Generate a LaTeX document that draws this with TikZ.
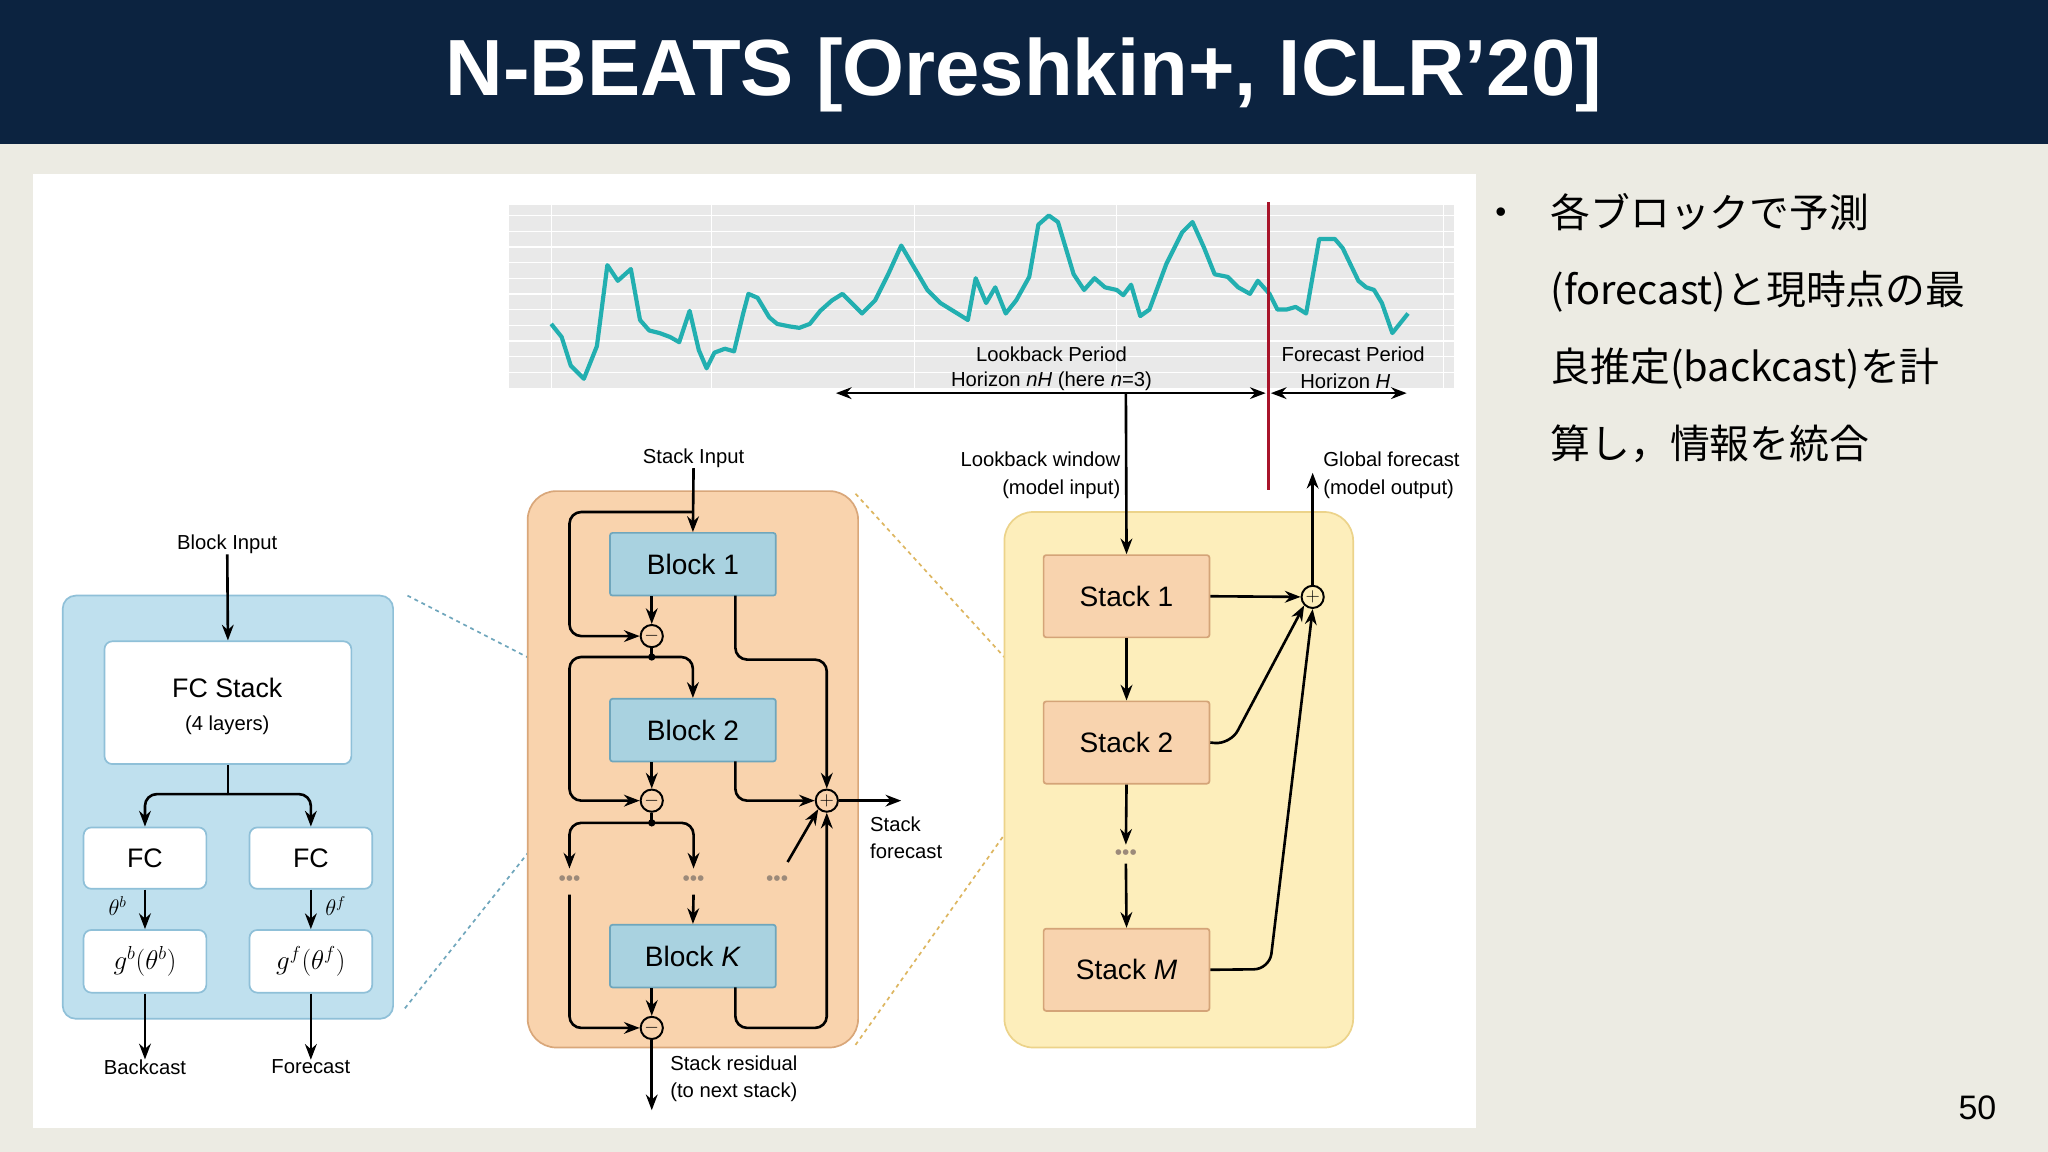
\documentclass[tikz,border=0pt]{standalone}
\usepackage{fontspec}
\setmainfont{Liberation Sans}
\newfontfamily\jp{Noto Sans CJK JP}
\usetikzlibrary{arrows.meta}
\definecolor{navy}{HTML}{0C2340}
\definecolor{pagebg}{HTML}{ECEBE3}
\definecolor{bluebg}{HTML}{BFE0EE}
\definecolor{blueln}{HTML}{8FC0D8}
\definecolor{blockf}{HTML}{A9D2E0}
\definecolor{blockd}{HTML}{6FA6BC}
\definecolor{orbg}{HTML}{F9D3AD}
\definecolor{orln}{HTML}{D9A77A}
\definecolor{yelbg}{HTML}{FDEEBB}
\definecolor{yelln}{HTML}{ECD38A}
\definecolor{stackf}{HTML}{F8D3AE}
\definecolor{stackd}{HTML}{D4A478}
\definecolor{teal}{HTML}{22AFB0}
\definecolor{chartbg}{HTML}{E9E9E9}
\definecolor{redln}{HTML}{A8142A}
\definecolor{dotc}{HTML}{9C8A7A}
\tikzset{
  arr/.style={-{Stealth[length=12pt,width=9pt]},line width=2pt,rounded corners=9pt},
  ln/.style={line width=2pt,rounded corners=9pt},
  lbl/.style={font=\fontsize{15.5}{18}\selectfont,inner sep=0pt},
  blk/.style={draw=blockd,fill=blockf,line width=1.3pt,rounded corners=2pt,minimum width=127pt,minimum height=48pt,font=\fontsize{21.5}{24}\selectfont},
  stk/.style={draw=stackd,fill=stackf,line width=1.3pt,rounded corners=2pt,minimum width=127pt,minimum height=63pt,font=\fontsize{21.5}{24}\selectfont},
  wbox/.style={draw=blueln,fill=white,line width=1.3pt,rounded corners=6pt},
  op/.style={circle,draw,line width=1.5pt,fill=orbg,minimum size=17pt,inner sep=0pt,font=\fontsize{14}{14}\selectfont},
  dts/.style={text=dotc,font=\fontsize{16}{16}\selectfont},
}
\begin{document}
\begin{tikzpicture}[x=1pt,y=-1pt]
\fill[pagebg] (0,0) rectangle (1568,882);
\useasboundingbox (0,0) rectangle (1568,882);
\fill[navy] (0,0) rectangle (1568,110);
\node[text=white,font=\fontsize{61}{61}\bfseries\selectfont] (title) at (784,57) {N-BEATS [Oreshkin+, ICLR’20]};
\fill[white] (25,133) rectangle (1130,864);
% chart
\fill[chartbg] (390,157) rectangle (1113,297);
\foreach \y in {165,177,...,293} \draw[white,line width=1pt] (390,\y) -- (1113,\y);
\foreach \x in {422,545,700,855,1105} \draw[white,line width=1pt] (\x,157) -- (\x,297);
\draw[teal,line width=3.2pt,line join=round] (422,248)--(430,258)--(437,280)--(447,290)--(457,265)--(465,203)--(473,215)--(483,206)--(490,245)--(497,253)--(505,255)--(513,258)--(520,262)--(528,238)--(535,268)--(541,282)--(547,270)--(555,267)--(562,269)--(569,240)--(573,225)--(580,228)--(589,243)--(595,248)--(605,250)--(612,251)--(620,248)--(628,238)--(637,230)--(645,225)--(652,232)--(660,240)--(670,230)--(680,210)--(690,188)--(700,205)--(710,222)--(720,232)--(733,240)--(741,245)--(747,213)--(755,232)--(762,220)--(770,240)--(778,230)--(788,212)--(795,172)--(803,165)--(810,170)--(822,210)--(830,222)--(838,213)--(846,220)--(855,222)--(860,226)--(866,218)--(873,242)--(880,237)--(893,202)--(905,178)--(913,170)--(922,190)--(930,210)--(940,212)--(948,220)--(957,225)--(963,215)--(972,225)--(978,237)--(985,237)--(992,235)--(1000,240)--(1010,183)--(1022,183)--(1028,190)--(1040,215)--(1046,220)--(1052,222)--(1058,232)--(1066,255)--(1078,240);
\draw[redln,line width=2.5pt] (971,155) -- (971,375);
\coordinate (la) at (640,301); \coordinate (lb) at (969,301);
\coordinate (fa) at (973,301); \coordinate (fb) at (1077,301);
\draw[{Stealth[length=12pt,width=9pt]}-{Stealth[length=12pt,width=9pt]},line width=1.8pt] (la) -- (lb);
\draw[{Stealth[length=12pt,width=9pt]}-{Stealth[length=12pt,width=9pt]},line width=1.8pt] (fa) -- (fb);
\node[lbl] (lp1) at (805,271) {Lookback Period};
\node[lbl] (lp2) at (805,292) {Horizon \textit{nH} (here \textit{n}=3)};
\node[lbl] (fp1) at (1036,271) {Forecast Period};
\node[lbl] (fp2) at (1030,292) {Horizon \textit{H}};
% dashed connectors
\draw[dashed,blockd,line width=1.3pt] (312,456) -- (462,533);
\draw[dashed,blockd,line width=1.3pt] (310,772) -- (462,580);
\draw[dashed,stackd!80!yellow,line width=1.3pt] (655,378) -- (798,535);
\draw[dashed,stackd!80!yellow,line width=1.3pt] (655,800) -- (798,598);
% left panel
\draw[blueln,fill=bluebg,line width=1.3pt,rounded corners=10pt] (48,456) rectangle (301,780);
\node[lbl] (bin) at (174,417) {Block Input};
\node[wbox,minimum width=189pt,minimum height=94pt] (fcs) at (174.5,538) {};
\node[font=\fontsize{20.5}{22}\selectfont] (fcst) at (174,527) {FC Stack};
\node[lbl] (fcl) at (174,555) {(4 layers)};
\node[wbox,minimum width=94pt,minimum height=47pt,font=\fontsize{20.5}{22}\selectfont] (fc1) at (111,657) {FC};
\node[wbox,minimum width=94pt,minimum height=47pt,font=\fontsize{20.5}{22}\selectfont] (fc2) at (238,657) {FC};
\node[wbox,minimum width=94pt,minimum height=48pt,font=\fontsize{22}{22}\selectfont] (g1) at (111,736) {$g^b(\theta^b)$};
\node[wbox,minimum width=94pt,minimum height=48pt,font=\fontsize{22}{22}\selectfont] (g2) at (238,736) {$g^f(\theta^f)$};
\node[font=\fontsize{17}{17}\selectfont] (tb) at (90,694) {$\theta^b$};
\node[font=\fontsize{17}{17}\selectfont] (tf) at (257,694) {$\theta^f$};
\node[lbl] (bc) at (111,817) {Backcast};
\node[lbl] (fcast) at (238,817) {Forecast};
\draw[arr] (bin.south) -- (fcs.north);
\coordinate (br) at (174.5,608);
\draw[ln] (fcs.south) -- (br);
\draw[arr] (br) -| (fc1.north);
\draw[arr] (br) -| (fc2.north);
\draw[arr] (fc1) -- (g1);
\draw[arr] (fc2) -- (g2);
\draw[arr] (g1.south) -- (bc.north);
\draw[arr] (g2.south) -- (fcast.north);
% stack panel
\draw[orln,fill=orbg,line width=1.3pt,rounded corners=22pt] (404,376) rectangle (657,802);
\node[lbl] (sin) at (531,351) {Stack Input};
\node[blk] (b1) at (530.5,432) {Block 1};
\node[blk] (b2) at (530.5,559) {Block 2};
\node[blk] (bk) at (530.5,732) {Block \textit{K}};
\node[op] (m1) at (499,487) {$-$};
\node[op] (m2) at (499,613) {$-$};
\node[op] (m3) at (499,787) {$-$};
\node[op] (pl) at (633,613) {$+$};
\node[dts] (d1) at (436,674) {•••};
\node[dts] (d2) at (531,674) {•••};
\node[dts] (d3) at (595,674) {•••};
\coordinate (s0) at (531,392);
\coordinate (j1) at (499,503);
\coordinate (j2) at (499,630);
\fill (j1) circle (2.8pt); \fill (j2) circle (2.8pt);
\draw[arr] (sin.south) -- (b1.north);
\draw[arr] (s0) -| (436,487) -- (m1.west);
\draw[arr] (b1.south -| m1) -- (m1.north);
\draw[ln] (m1.south) -- (j1);
\draw[arr] (j1) -| (436,613) -- (m2.west);
\draw[arr] (j1) -| (b2.north);
\draw[arr] (563,456) |- (633,505) -- (pl.north);
\draw[arr] (b2.south -| m2) -- (m2.north);
\draw[arr] (563,583) |- (pl.west);
\draw[ln] (m2.south) -- (j2);
\draw[arr] (j2) -| (436,665);
\draw[arr] (j2) -| (531,665);
\draw[arr] (603,660) -- (pl.south west);
\draw[arr] (531,685) -- (bk.north);
\draw[arr] (436,685) |- (m3.west);
\draw[arr] (bk.south -| m3) -- (m3.north);
\draw[arr] (563,756) |- (633,787) -- (pl.south);
\coordinate (resend) at (499,850);
\draw[arr] (m3.south) -- (resend);
\coordinate (sfend) at (690,613);
\draw[arr] (pl.east) -- (sfend);
\node[lbl,align=left,anchor=north west] (sf) at (666,625) {Stack\\[3pt]forecast};
\node[lbl,align=left,anchor=north west] (sr) at (513,808) {Stack residual\\[3pt](to next stack)};
% model panel
\draw[yelln,fill=yelbg,line width=1.3pt,rounded corners=22pt] (769,392) rectangle (1036,802);
\node[stk] (st1) at (862.5,456.5) {Stack 1};
\node[stk] (st2) at (862.5,568.5) {Stack 2};
\node[stk] (stm) at (862.5,742.5) {Stack \textit{M}};
\node[dts] (d4) at (862,654) {•••};
\node[op,fill=yelbg] (gp) at (1005,457) {$+$};
\coordinate (lw) at (862,301);
\draw[arr] (lw) -- (st1.north);
\draw[arr] (st1) -- (st2);
\draw[arr] (st2.south) -- (d4.north);
\draw[arr] (d4.south) -- (stm.north);
\draw[arr] (st1.east) -- (gp.west);
\draw[arr,rounded corners=12pt] (st2.east) -- (942,570) -- (gp.south west);
\draw[arr,rounded corners=12pt] (stm.east) -- (972,742) -- (gp.south);
\coordinate (gend) at (1005,362);
\draw[arr] (gp.north) -- (gend);
\node[lbl,align=right,anchor=east] (lwl) at (858,364) {Lookback window\\[3pt](model input)};
\node[lbl,align=left,anchor=west] (gfl) at (1013,364) {Global forecast\\[3pt](model output)};
% bullet text
\node[font=\fontsize{24}{24}\selectfont] (bul) at (1149,165) {•};
\node[anchor=north west,align=left,font=\jp\fontsize{30.5}{59}\selectfont,inner sep=0pt] (txt) at (1187,148) {各ブロックで予測\\(forecast)と現時点の最\\良推定(backcast)を計\\算し，情報を統合};
\node[font=\fontsize{26}{26}\selectfont] (pg) at (1514,848) {50};
\end{tikzpicture}
\end{document}
